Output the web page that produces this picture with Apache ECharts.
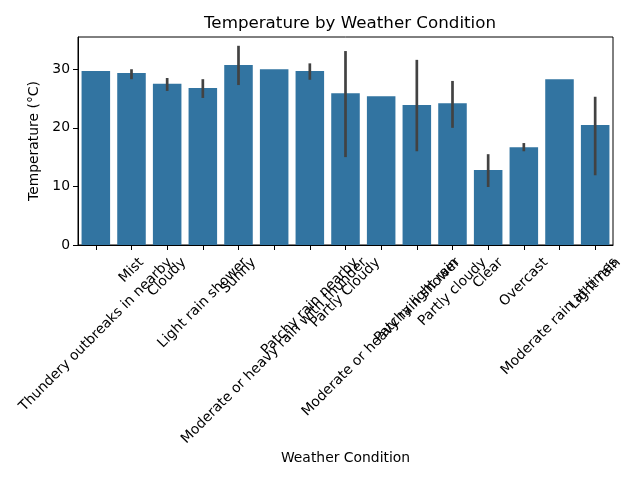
<!DOCTYPE html>
<html><head><meta charset="utf-8">
<script src="https://cdn.jsdelivr.net/npm/echarts@6/dist/echarts.min.js"></script>
<style>html,body{margin:0;padding:0;background:#fff}#c{width:640px;height:480px}</style>
</head><body><div id="c"></div>
<script>
const categories = ["Thundery outbreaks in nearby","Mist","Cloudy","Light rain shower","Sunny","Moderate or heavy rain with thunder","Patchy rain nearby","Partly Cloudy","Moderate or heavy rain shower","Patchy light rain","Partly cloudy","Clear","Overcast","Moderate rain at times","Light rain"];
const meanTemp = [29.7, 29.35, 27.5, 26.8, 30.7, 30.0, 29.7, 25.9, 25.4, 23.9, 24.2, 12.8, 16.7, 28.3, 20.5];
const ciLow  = [null, 28.3, 26.3, 25.1, 27.3, null, 28.2, 15.0, null, 16.0, 20.0, 9.9, 16.0, null, 11.9];
const ciHigh = [null, 30.0, 28.5, 28.3, 34.0, null, 31.0, 33.1, null, 31.6, 28.0, 15.5, 17.4, null, 25.3];
const yTicks = [0, 10, 20, 30];

const FONT = 'DejaVu Sans';
const FS = 13.9;
const cv = document.createElement('canvas').getContext('2d');
cv.font = FS + 'px "' + FONT + '"';
const rich = {};
categories.forEach((c, i) => {
  const w = cv.measureText(c).width;
  const s = (w + 16) / 4;
  rich['l' + i] = {padding: [2 * s, 2 * s, 0, 0], fontSize: FS, fontFamily: FONT, color: '#000'};
});

const errData = [];
categories.forEach((c, i) => {
  if (ciLow[i] != null) errData.push([i, ciLow[i], ciHigh[i]]);
});

const chart = echarts.init(document.getElementById('c'), null, {renderer: 'canvas'});
chart.setOption({
  animation: false,
  backgroundColor: '#fff',
  textStyle: {fontFamily: FONT},
  title: {
    text: 'Temperature by Weather Condition',
    left: 345, top: 10, textAlign: 'center',
    textStyle: {fontSize: 16.7, fontWeight: 'normal', color: '#000', fontFamily: FONT}
  },
  grid: {left: 78, right: 27, top: 37, bottom: 235, show: true, borderColor: '#000', borderWidth: 1, containLabel: false},
  xAxis: {
    type: 'category',
    data: categories,
    name: 'Weather Condition',
    nameLocation: 'middle',
    nameGap: 206,
    nameTextStyle: {fontSize: FS, color: '#000', fontFamily: FONT, verticalAlign: 'top'},
    axisLine: {show: true, lineStyle: {color: '#000', width: 1}},
    axisTick: {show: true, alignWithLabel: true, length: 5, lineStyle: {color: '#000', width: 1}},
    axisLabel: {
      interval: 0, rotate: 45, margin: 9.7, align: 'center', verticalAlign: 'middle',
      formatter: (v, i) => '{l' + i + '|' + v + '}',
      rich: rich, color: '#000', fontSize: FS, fontFamily: FONT
    },
    splitLine: {show: false}
  },
  yAxis: {
    type: 'value',
    min: 0, max: 35.5, interval: 10,
    name: 'Temperature (°C)',
    nameLocation: 'middle',
    nameGap: 31,
    nameTextStyle: {fontSize: FS, color: '#000', fontFamily: FONT},
    axisLine: {show: true, lineStyle: {color: '#000', width: 1}},
    axisTick: {show: true, length: 5, customValues: yTicks, lineStyle: {color: '#000', width: 1}},
    axisLabel: {
      color: '#000', fontSize: FS, fontFamily: FONT, margin: 8, customValues: yTicks
    },
    splitLine: {show: false}
  },
  series: [
    {
      type: 'bar',
      data: meanTemp,
      barCategoryGap: '20%',
      itemStyle: {color: '#3274a1'},
      z: 2
    },
    {
      type: 'custom',
      data: errData,
      z: 3,
      renderItem: (params, api) => {
        const p1 = api.coord([api.value(0), api.value(1)]);
        const p2 = api.coord([api.value(0), api.value(2)]);
        return {type: 'line', shape: {x1: p1[0], y1: p1[1], x2: p2[0], y2: p2[1]},
                style: {stroke: '#424242', lineWidth: 2.7}};
      }
    }
  ]
});
</script>
</body></html>
